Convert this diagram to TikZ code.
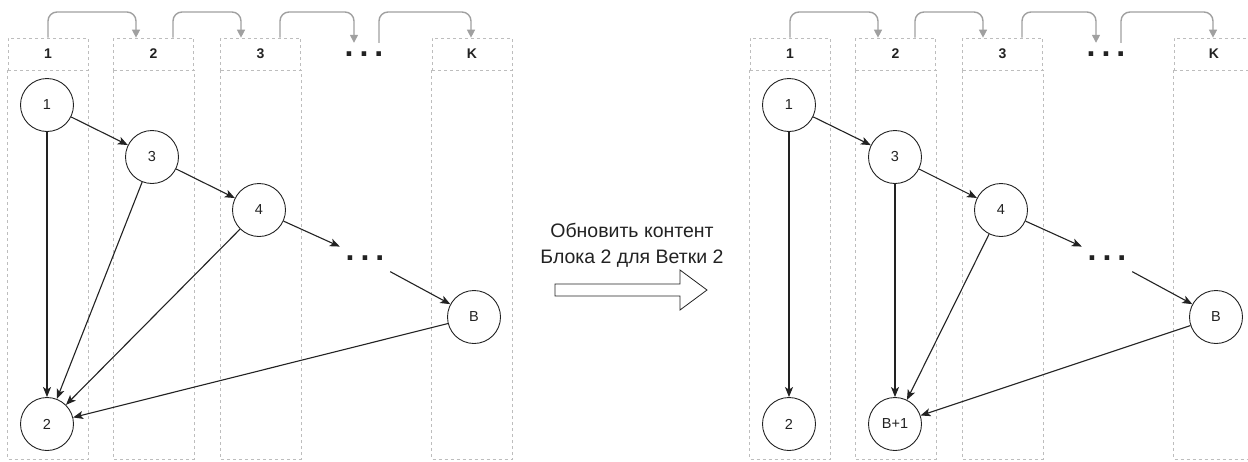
\documentclass[tikz,border=0pt]{standalone}
\usepackage{fontspec}
\setmainfont{Liberation Sans}
\usetikzlibrary{arrows.meta}

\definecolor{lanegray}{HTML}{BDBDBD}
\definecolor{flowgray}{HTML}{A0A0A0}
\definecolor{ink}{HTML}{222222}

\tikzset{
  lane/.style={draw=lanegray, line width=0.7pt, dash pattern=on 3pt off 3pt},
  lanehead/.style={lane, minimum width=80pt, minimum height=32pt, inner sep=0pt,
    font=\fontsize{14}{16}\selectfont\bfseries, text=ink},
  headdots/.style={inner sep=0pt, minimum width=34pt, minimum height=22pt,
    font=\fontsize{32}{32}\selectfont\bfseries, text=ink},
  flow/.style={draw=flowgray, line width=1.4pt, rounded corners=9pt,
    -{Triangle[length=8pt,width=8pt]}},
  state/.style={circle, draw=ink, line width=0.9pt, minimum size=53pt, inner sep=0pt,
    font=\fontsize{14.5}{16}\selectfont, text=ink},
  gap/.style={inner sep=0pt, minimum width=50pt, minimum height=30pt,
    font=\fontsize{32}{32}\selectfont\bfseries, text=ink},
  edge/.style={draw=ink, line width=1.1pt, -{Stealth[length=10pt,width=8pt,inset=2.5pt]}},
}

% lanes, their headers and the grey hand-over arrows between them
\newcommand\panellanes[1]{%
  \coordinate (#1top) at (0,12);
  \node[lanehead] (#1h1) at (48,54) {1};
  \node[lanehead] (#1h2) at (153.5,54) {2};
  \node[lanehead] (#1h3) at (260.5,54) {3};
  \node[lanehead] (#1hK) at (472,54) {K};
  \node[headdots] (#1hd) at (364,54) {.\hspace{6pt}.\hspace{6pt}.};
  \foreach \h in {h1,h2,h3,hK}{%
    \draw[lane] (#1\h.south west) rectangle ([yshift=-389pt]#1\h.south east);}
  \draw[flow] (#1h1.north) -- (#1h1.north |- #1top) -| ([xshift=-17.5pt]#1h2.north);
  \draw[flow] ([xshift=19.5pt]#1h2.north) -- ([xshift=19.5pt]#1h2.north |- #1top)
    -| ([xshift=-19.5pt]#1h3.north);
  \draw[flow] ([xshift=19.5pt]#1h3.north) -- ([xshift=19.5pt]#1h3.north |- #1top)
    -| ([xshift=-10pt]#1hd.north);
  \draw[flow] ([xshift=15pt]#1hd.north) -- ([xshift=15pt]#1hd.north |- #1top)
    -| ([xshift=-1pt]#1hK.north);
}

\begin{document}
\begin{tikzpicture}[x=1pt, y=-1pt]
\useasboundingbox (0,0) rectangle (1248,461);

% ---- before the update ----
\begin{scope}
  \panellanes{a}
  \node[state] (a1) at (47,105) {1};
  \node[state] (a3) at (152,157) {3};
  \node[state] (a4) at (259,210) {4};
  \node[gap]   (ad) at (365,258) {.\hspace{6pt}.\hspace{6pt}.};
  \node[state] (aB) at (474,317) {B};
  \node[state] (a2) at (47,424) {2};
  \draw[edge] (a1) -- (a3);
  \draw[edge] (a3) -- (a4);
  \draw[edge] (a4) -- (ad);
  \draw[edge] (ad) -- (aB);
  \draw[edge] (a1) -- (a2);
  \draw[edge] (a3) -- (a2);
  \draw[edge] (a4) -- (a2);
  \draw[edge] (aB) -- (a2);
\end{scope}

% ---- transition ----
\node[font=\fontsize{19.5}{26}\selectfont, text=ink, align=center] (msg) at (632,245)
  {Обновить контент\\Блока 2 для Ветки 2};
\draw[ink, line width=0.8pt] (555,284) -- (680,284) -- (680,270) -- (707,290)
  -- (680,310) -- (680,296) -- (555,296) -- cycle;

% ---- after the update ----
\begin{scope}[xshift=742pt]
  \panellanes{b}
  \node[state] (b1) at (47,105) {1};
  \node[state] (b3) at (153,157) {3};
  \node[state] (b4) at (259,210) {4};
  \node[gap]   (bd) at (365,258) {.\hspace{6pt}.\hspace{6pt}.};
  \node[state] (bB) at (474,317) {B};
  \node[state] (b2) at (47,424) {2};
  \node[state] (bN) at (153,424) {B+1};
  \draw[edge] (b1) -- (b3);
  \draw[edge] (b3) -- (b4);
  \draw[edge] (b4) -- (bd);
  \draw[edge] (bd) -- (bB);
  \draw[edge] (b1) -- (b2);
  \draw[edge] (b3) -- (bN);
  \draw[edge] (b4) -- (bN);
  \draw[edge] (bB) -- (bN);
\end{scope}
\end{tikzpicture}
\end{document}
